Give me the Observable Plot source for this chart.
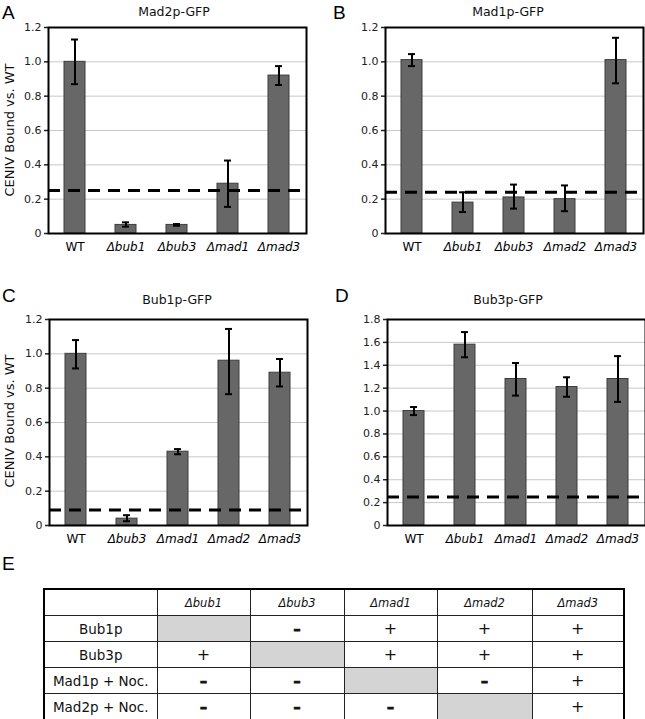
<!DOCTYPE html>
<html><head><meta charset="utf-8">
<script src="https://cdn.jsdelivr.net/npm/d3@7"></script>
<script src="https://cdn.jsdelivr.net/npm/@observablehq/plot@0.6"></script>
<style>
body{margin:0;background:#fff;}
#root{position:relative;width:645px;height:719px;overflow:hidden;font-family:"DejaVu Sans",Verdana,sans-serif;color:#111;}
.abs{position:absolute;line-height:1;}
.letter{font-family:"Liberation Sans",Arial,sans-serif;font-size:19px;color:#000;}
.title{font-size:12.5px;transform:translateX(-50%);white-space:nowrap;}
.ylab{font-size:13px;transform:translate(-50%,-50%) rotate(-90deg);white-space:nowrap;}
.plot{position:absolute;}
table{position:absolute;left:43px;top:588px;border-collapse:collapse;border:2px solid #000;font-family:"DejaVu Sans",Verdana,sans-serif;font-size:13.5px;table-layout:fixed;color:#111;}
td{border:1px solid #222;text-align:center;padding:0;height:25px;}
td.hd{font-style:italic;font-size:11.5px;}
td.na{background:#d4d4d4;}
td.plus{font-size:16px;font-weight:normal;}
td.minus{font-size:14px;font-weight:bold;-webkit-text-stroke:0.9px #111;}
</style></head>
<body><div id="root"></div>
<script>
// Panel A: Mad2p-GFP
const panelAGenes = ["WT","Δbub1","Δbub3","Δmad1","Δmad3"];
const panelAValues = [1.00,0.05,0.05,0.29,0.92];
const panelALow = [0.87,0.04,0.045,0.155,0.865];
const panelAHigh = [1.13,0.065,0.055,0.425,0.975];
const panelAThreshold = 0.25;
// Panel B: Mad1p-GFP
const panelBGenes = ["WT","Δbub1","Δbub3","Δmad2","Δmad3"];
const panelBValues = [1.01,0.18,0.21,0.20,1.01];
const panelBLow = [0.975,0.125,0.145,0.13,0.875];
const panelBHigh = [1.045,0.24,0.285,0.28,1.14];
const panelBThreshold = 0.24;
// Panel C: Bub1p-GFP
const panelCGenes = ["WT","Δbub3","Δmad1","Δmad2","Δmad3"];
const panelCValues = [1.00,0.04,0.43,0.96,0.89];
const panelCLow = [0.915,0.025,0.415,0.765,0.81];
const panelCHigh = [1.08,0.06,0.445,1.145,0.97];
const panelCThreshold = 0.09;
// Panel D: Bub3p-GFP
const panelDGenes = ["WT","Δbub1","Δmad1","Δmad2","Δmad3"];
const panelDValues = [1.00,1.58,1.28,1.21,1.28];
const panelDLow = [0.965,1.47,1.135,1.125,1.08];
const panelDHigh = [1.035,1.69,1.42,1.295,1.48];
const panelDThreshold = 0.25;

const yTicks12 = [0,0.2,0.4,0.6,0.8,1.0,1.2];
const yTicks18 = [0,0.2,0.4,0.6,0.8,1.0,1.2,1.4,1.6,1.8];

// Panel E table
const tableColumns = ["Δbub1","Δbub3","Δmad1","Δmad2","Δmad3"];
const tableRows = ["Bub1p","Bub3p","Mad1p + Noc.","Mad2p + Noc."];
const tableValues = [
  [null,"–","+","+","+"],
  ["+",null,"+","+","+"],
  ["–","–",null,"–","+"],
  ["–","–","–",null,"+"]
];

const root = document.getElementById("root");
function addDiv(cls, text, left, top){
  const d = document.createElement("div");
  d.className = "abs " + cls; d.textContent = text;
  d.style.left = left + "px"; d.style.top = top + "px";
  root.appendChild(d); return d;
}

function panel(genes, values, low, high, threshold, ticks, ml, mr){
  const data = genes.map((g,i)=>({g, v: values[i], lo: low[i], hi: high[i]}));
  const top = ticks[ticks.length-1];
  return Plot.plot({
    width: ml + 258 + mr, height: 260,
    marginLeft: ml, marginRight: mr, marginTop: 27, marginBottom: 27,
    style: {fontFamily: '"DejaVu Sans", Verdana, sans-serif', fontSize: "11px", color: "#222", background: "transparent"},
    x: {domain: genes, paddingInner: 0.58, paddingOuter: 0.29, label: null},
    y: {domain: [0, top], label: null},
    marks: [
      Plot.gridY(ticks.filter(t => t > 0 && t < top), {stroke: "#c8c8c8", strokeOpacity: 1, strokeWidth: 1}),
      Plot.barY(data, {x: "g", y: "v", fill: "#676767", stroke: "#3c3c3c", strokeWidth: 1}),
      Plot.ruleY([threshold], {stroke: "#000", strokeWidth: 3, strokeDasharray: "12,8"}),
      Plot.ruleX(data, {x: "g", y1: "lo", y2: "hi", stroke: "#000", strokeWidth: 2}),
      Plot.tickY(data, {x: "g", y: "lo", stroke: "#000", strokeWidth: 2, insetLeft: 7, insetRight: 7}),
      Plot.tickY(data, {x: "g", y: "hi", stroke: "#000", strokeWidth: 2, insetLeft: 7, insetRight: 7}),
      Plot.axisY(ticks, {tickSize: 4, tickPadding: 3, strokeWidth: 1.5, tickFormat: d => d === 0 ? "0" : d.toFixed(1), label: null}),
      Plot.axisX(genes.filter(g => g === "WT"), {tickSize: 0, tickPadding: 9, fontSize: 12, fill: "#000", label: null}),
      Plot.axisX(genes.filter(g => g !== "WT"), {tickSize: 0, tickPadding: 9, fontSize: 12, fontStyle: "italic", fill: "#000", label: null}),
      Plot.frame({stroke: "#000", strokeWidth: 2})
    ]
  });
}

function place(svg, left, top){
  svg.classList.add("plot");
  svg.style.left = left + "px"; svg.style.top = top + "px";
  root.appendChild(svg);
}

place(panel(panelAGenes, panelAValues, panelALow, panelAHigh, panelAThreshold, yTicks12, 48, 14), 0, 0);
place(panel(panelBGenes, panelBValues, panelBLow, panelBHigh, panelBThreshold, yTicks12, 65, 2), 320, 0);
place(panel(panelCGenes, panelCValues, panelCLow, panelCHigh, panelCThreshold, yTicks12, 49, 13), 0, 292);
place(panel(panelDGenes, panelDValues, panelDLow, panelDHigh, panelDThreshold, yTicks18, 67, 0), 320, 292);

addDiv("letter", "A", 2, 3);
addDiv("letter", "B", 333, 3);
addDiv("letter", "C", 2, 286);
addDiv("letter", "D", 335, 286);
addDiv("letter", "E", 2, 554);
addDiv("title", "Mad2p-GFP", 174, 6);
addDiv("title", "Mad1p-GFP", 508, 6);
addDiv("title", "Bub1p-GFP", 177, 294);
addDiv("title", "Bub3p-GFP", 508, 294);
addDiv("ylab", "CENIV Bound vs. WT", 9, 130);
addDiv("ylab", "CENIV Bound vs. WT", 9, 421);

// table
const colWidths = [113, 93, 94, 93, 95, 92];
const table = document.createElement("table");
const cg = document.createElement("colgroup");
colWidths.forEach(w => { const c = document.createElement("col"); c.style.width = w + "px"; cg.appendChild(c); });
table.appendChild(cg);
const hr = document.createElement("tr");
hr.appendChild(document.createElement("td"));
tableColumns.forEach(c => { const td = document.createElement("td"); td.className = "hd"; td.textContent = c; hr.appendChild(td); });
table.appendChild(hr);
tableRows.forEach((r, i) => {
  const tr = document.createElement("tr");
  const th = document.createElement("td"); th.textContent = r; tr.appendChild(th);
  tableValues[i].forEach(v => {
    const td = document.createElement("td");
    if (v === null) td.className = "na";
    else { td.className = v === "+" ? "plus" : "minus"; td.textContent = v; }
    tr.appendChild(td);
  });
  table.appendChild(tr);
});
root.appendChild(table);
</script>
</body></html>
